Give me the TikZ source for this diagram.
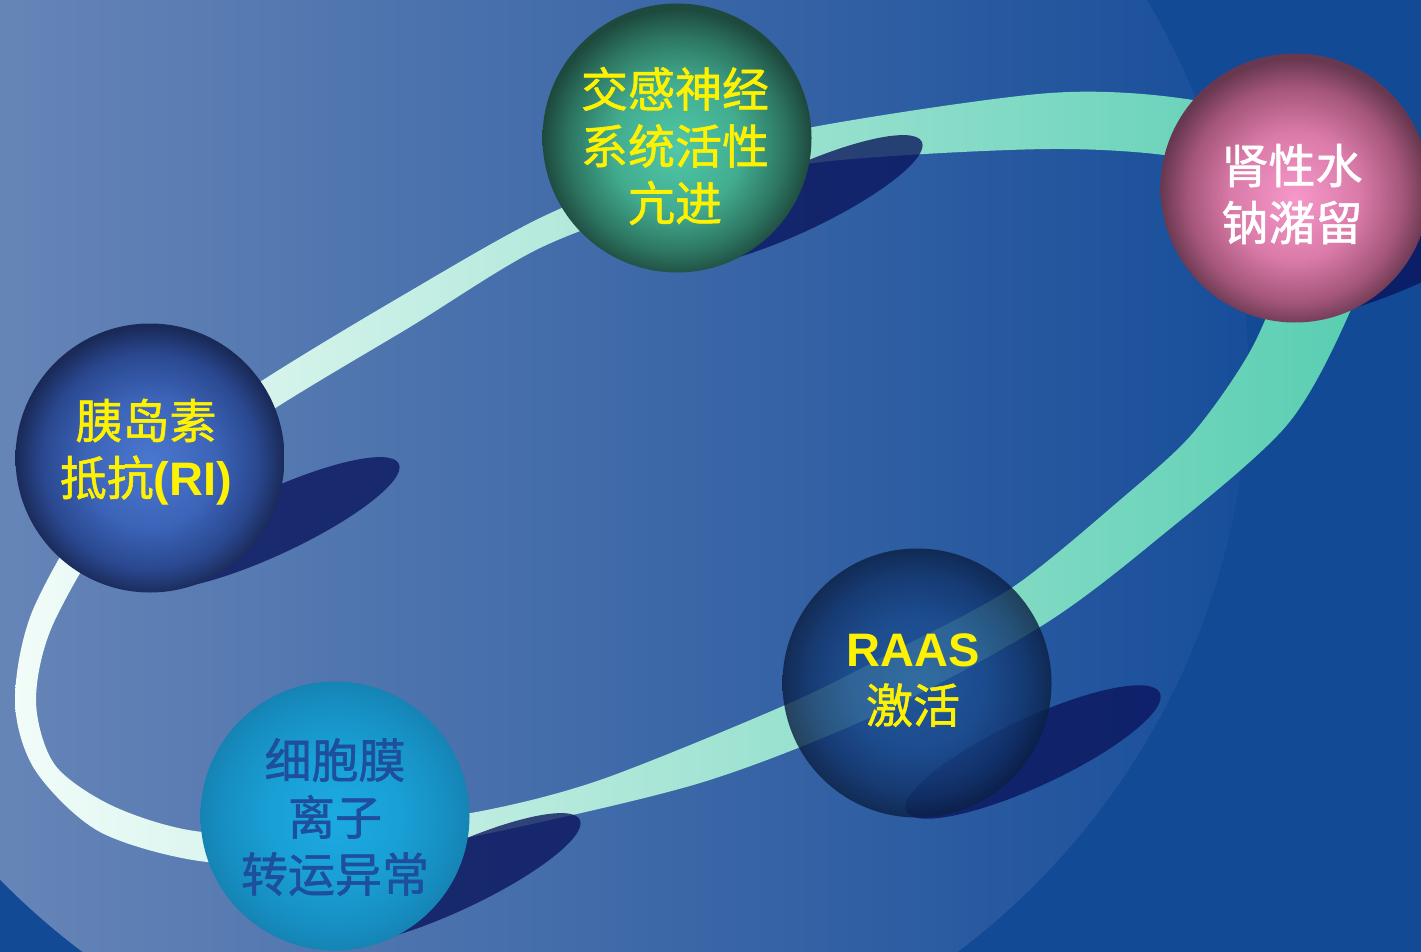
\documentclass[tikz,border=0pt]{standalone}
\usepackage{fontspec}
\setmainfont{Liberation Sans}
\newfontfamily\cjk{Noto Sans CJK SC}[FakeBold=1.2]
\definecolor{bgdark}{RGB}{19,74,150}
\definecolor{bgL}{RGB}{115,142,188}
\definecolor{bgR}{RGB}{24,78,154}
\definecolor{ringL}{RGB}{242,252,249}
\definecolor{ringM}{RGB}{176,232,217}
\definecolor{ringR}{RGB}{86,205,176}
\definecolor{shadowc}{RGB}{10,20,92}
\definecolor{cyantxt}{RGB}{29,79,156}
\definecolor{gA}{RGB}{80,200,169}
\definecolor{gB}{RGB}{66,172,143}
\definecolor{gC}{RGB}{45,118,98}
\definecolor{gD}{RGB}{30,74,62}
\definecolor{pA}{RGB}{246,152,202}
\definecolor{pB}{RGB}{217,122,168}
\definecolor{pC}{RGB}{164,86,120}
\definecolor{pD}{RGB}{104,56,80}
\definecolor{bA}{RGB}{74,120,208}
\definecolor{bB}{RGB}{60,100,184}
\definecolor{bC}{RGB}{42,72,144}
\definecolor{bD}{RGB}{26,42,88}
\definecolor{cA}{RGB}{28,170,226}
\definecolor{cB}{RGB}{25,160,214}
\definecolor{cC}{RGB}{23,144,196}
\definecolor{cD}{RGB}{21,132,180}
\definecolor{rA}{RGB}{30,84,152}
\definecolor{rB}{RGB}{26,74,140}
\definecolor{rC}{RGB}{18,52,106}
\definecolor{rD}{RGB}{11,32,68}
\pgfdeclareradialshading{gball}{\pgfpoint{0bp}{-2bp}}{color(0bp)=(gA); color(12bp)=(gB); color(20bp)=(gC); color(25bp)=(gD); color(50bp)=(gD)}
\pgfdeclareradialshading{pball}{\pgfpoint{0bp}{-2bp}}{color(0bp)=(pA); color(12bp)=(pB); color(20bp)=(pC); color(25bp)=(pD); color(50bp)=(pD)}
\pgfdeclareradialshading{bball}{\pgfpoint{0bp}{-1bp}}{color(0bp)=(bA); color(12bp)=(bB); color(20bp)=(bC); color(25bp)=(bD); color(50bp)=(bD)}
\pgfdeclareradialshading{cball}{\pgfpoint{0bp}{0bp}}{color(0bp)=(cA); color(12bp)=(cB); color(20bp)=(cC); color(25bp)=(cD); color(50bp)=(cD)}
\pgfdeclareradialshading{rball}{\pgfpoint{0bp}{0bp}}{color(0bp)=(rA); color(12bp)=(rB); color(20bp)=(rC); color(25bp)=(rD); color(50bp)=(rD)}
\tikzset{
  ball/.style={circle, minimum size=269pt, inner sep=0pt, shade},
  shadowe/.style={fill=shadowc, fill opacity=0.78},
  lbl/.style={align=center, inner sep=0pt, font=\cjk\fontsize{47}{57}\selectfont},
}
\begin{document}
\begin{tikzpicture}[x=1pt,y=-1pt]
\useasboundingbox (0,0) rectangle (1421,952);
\fill[bgdark] (0,0) rectangle (1421,952);
\begin{scope}
\clip (0,0) rectangle (1421,952);
\shade[left color=bgL, right color=bgR] (520,370) circle [radius=728];
% ring
\shade[left color=ringL, middle color=ringM, right color=ringR, even odd rule]
  plot[smooth cycle] coordinates {(15,700) (35,605) (115,480) (263,380) (400,297) (540,218) (677,163) (813,127) (1050,93) (1193,100) (1320,135) (1380,215) (1353,305) (1287,425) (1155,541) (1043,625) (880,713) (700,783) (471,837) (335,858) (207,862) (100,832) (35,770)}
  plot[smooth cycle] coordinates {(36,700) (55,620) (130,505) (277,407) (410,327) (540,248) (677,198) (813,163) (1050,149) (1193,160) (1260,200) (1283,260) (1253,346) (1193,433) (1120,500) (1013,587) (900,648) (790,703) (600,780) (471,813) (335,828) (203,832) (115,807) (55,765)};
% shadows
\fill[shadowe, rotate around={25:(795,201)}] (795,201) ellipse [x radius=140, y radius=32];
\fill[shadowe, rotate around={25:(1413,251)}] (1413,251) ellipse [x radius=140, y radius=32];
\fill[shadowe, rotate around={25:(272,523)}] (272,523) ellipse [x radius=140, y radius=32];
\fill[shadowe, rotate around={25:(453,879)}] (453,879) ellipse [x radius=140, y radius=32];
\fill[shadowe, rotate around={25:(1033,752)}] (1033,752) ellipse [x radius=140, y radius=34];
% spheres
\node[ball, shading=gball] (green) at (677,138) {};
\node[ball, shading=pball] (pink) at (1295,188) {};
\node[ball, shading=bball] (blue) at (150,458) {};
\node[ball, shading=cball] (cyan) at (335,816) {};
\node[ball, shading=rball, fill opacity=0.82] (raas) at (917,683) {};
\end{scope}
% labels
\node[lbl, text=yellow] (tg) at (675,146) {交感神经\\系统活性\\亢进};
\node[lbl, text=white] (tp) at (1292,194) {肾性水\\钠潴留};
\node[lbl, text=yellow] (tb) at (146,452) {胰岛素\\抵抗{\rmfamily\bfseries (RI)}};
\node[lbl, text=cyantxt] (tc) at (335,817) {细胞膜\\离子\\转运异常};
\node[lbl, text=yellow] (tr) at (913,680) {{\rmfamily\bfseries RAAS}\\激活};
\end{tikzpicture}
\end{document}
